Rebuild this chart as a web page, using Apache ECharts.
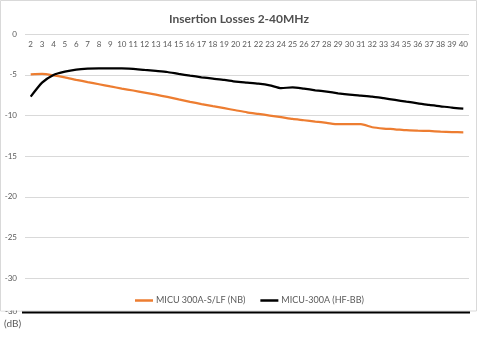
<!DOCTYPE html>
<html>
<head>
<meta charset="utf-8">
<script src="https://cdn.jsdelivr.net/npm/echarts@6/dist/echarts.min.js"></script>
<style>
  html, body { margin: 0; padding: 0; background: #fff; }
  #chart { width: 478px; height: 339px; }
</style>
</head>
<body>
<div id="chart"></div>
<script>
// Frequency points (MHz)
const frequencies = ['2','3','4','5','6','7','8','9','10','11','12','13','14','15','16','17','18','19','20',
  '21','22','23','24','25','26','27','28','29','30','31','32','33','34','35','36','37','38','39','40'];

// Insertion loss (dB) per frequency
const lossNB = [-4.92, -4.88, -5.05, -5.3, -5.6, -5.88, -6.15, -6.42, -6.68, -6.92,
  -7.17, -7.43, -7.71, -8.02, -8.31, -8.59, -8.85, -9.1, -9.35,
  -9.6, -9.8, -10.0, -10.2, -10.42, -10.58, -10.75, -10.9, -11.07, -11.07, -11.07,
  -11.44, -11.6, -11.69, -11.81, -11.86, -11.9, -11.98, -12.04, -12.06];

const lossHFBB = [-7.67, -5.95, -5.0, -4.6, -4.35, -4.23, -4.18, -4.18, -4.2, -4.25,
  -4.39, -4.51, -4.64, -4.88, -5.09, -5.29, -5.46, -5.62, -5.83,
  -5.95, -6.07, -6.28, -6.64, -6.52, -6.69, -6.89, -7.06, -7.26, -7.43, -7.55,
  -7.67, -7.87, -8.08, -8.29, -8.49, -8.7, -8.86, -9.03, -9.15];

const seriesNames = ['MICU 300A-S/LF (NB)', 'MICU-300A (HF-BB)'];

const FONT = 'Lato, "Open Sans", sans-serif';
const TEXT = '#595959';

const chart = echarts.init(document.getElementById('chart'), null, { renderer: 'canvas' });

chart.setOption({
  animation: false,
  backgroundColor: '#ffffff',
  title: {
    text: 'Insertion Losses 2-40MHz',
    left: 'center',
    top: 8,
    textStyle: { fontFamily: FONT, fontSize: 12, fontWeight: 'bold', color: '#505050' }
  },
  legend: {
    left: 130,
    top: 291,
    itemWidth: 18,
    itemHeight: 2.5,
    itemGap: 15,
    icon: 'rect',
    textStyle: { fontFamily: FONT, fontSize: 9, color: TEXT, padding: [0, 0, 0, -2] },
    data: seriesNames
  },
  grid: { left: 25, right: 9, top: 34.3, bottom: 61, containLabel: false },
  xAxis: {
    type: 'category',
    position: 'top',
    data: frequencies,
    boundaryGap: true,
    axisLine: { show: false },
    axisTick: { show: false },
    axisLabel: {
      inside: true,
      interval: 0,
      margin: 6,
      fontFamily: FONT,
      fontSize: 8,
      color: TEXT
    },
    splitLine: { show: false }
  },
  yAxis: {
    type: 'value',
    min: -30,
    max: 0,
    interval: 5,
    axisLine: { show: false },
    axisTick: { show: false },
    axisLabel: { margin: 8, fontFamily: FONT, fontSize: 8, color: TEXT },
    splitLine: { lineStyle: { color: '#d9d9d9', width: 1 } }
  },
  series: [
    {
      name: seriesNames[0],
      type: 'line',
      data: lossNB,
      smooth: 0.2,
      showSymbol: false,
      lineStyle: { color: '#ED7D31', width: 2.25 },
      itemStyle: { color: '#ED7D31' },
      z: 3
    },
    {
      name: seriesNames[1],
      type: 'line',
      data: lossHFBB,
      smooth: 0.2,
      showSymbol: false,
      lineStyle: { color: '#000000', width: 2.25 },
      itemStyle: { color: '#000000' },
      z: 4
    }
  ],
  graphic: [
    // chart frame
    {
      type: 'rect',
      z: -10,
      silent: true,
      shape: { x: 0.5, y: 0.5, width: 476, height: 310.5 },
      style: { fill: 'none', stroke: '#d9d9d9', lineWidth: 1 }
    },
    // axis baseline below the frame, its label half covered
    {
      type: 'text',
      z: 1,
      left: 5,
      top: 307,
      style: { text: '-30', fontFamily: FONT, fontSize: 8, fill: TEXT }
    },
    {
      type: 'rect',
      z: 2,
      silent: true,
      shape: { x: 1, y: 300, width: 20, height: 10.5 },
      style: { fill: '#ffffff' }
    },
    {
      type: 'line',
      z: 2,
      silent: true,
      shape: { x1: 22, y1: 312.5, x2: 470, y2: 312.5 },
      style: { stroke: '#000000', lineWidth: 2 }
    },
    {
      type: 'text',
      left: 4,
      top: 319,
      style: { text: '(dB)', fontFamily: FONT, fontSize: 10, fill: '#595959' }
    }
  ]
});
</script>
</body>
</html>
